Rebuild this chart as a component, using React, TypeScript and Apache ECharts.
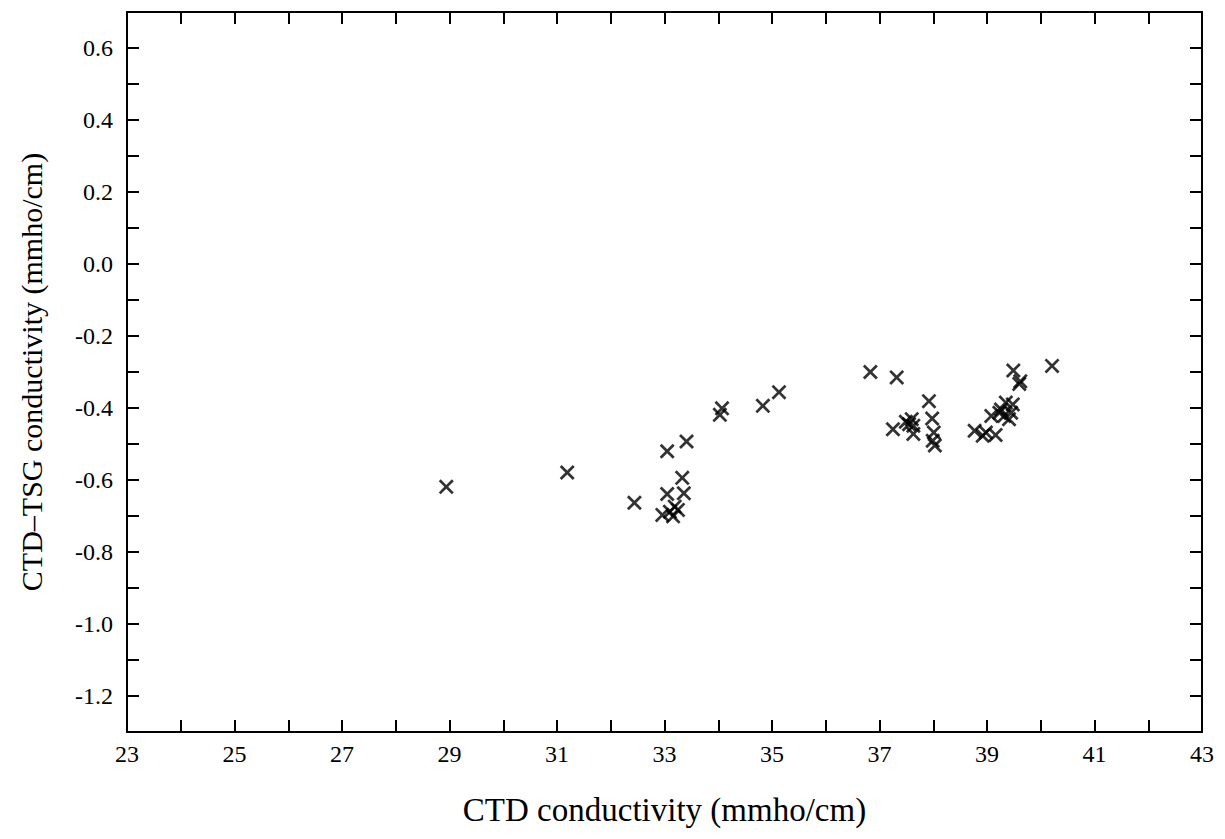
import React, { useEffect, useRef } from "react";
import * as echarts from "echarts";

const xValues: number[] = [
  28.94, 31.19, 32.44, 33.05, 33.41, 33.33, 33.05, 33.36, 33.19, 33.25, 32.96, 33.16, 33.10,
  34.03, 34.07, 34.83, 35.13,
  36.83, 37.32, 37.25, 37.92, 37.49, 37.60, 37.63, 37.63, 37.55, 37.98, 38.01, 37.99, 38.03,
  38.77, 38.92, 38.98, 39.16, 39.08, 39.23, 39.32, 39.35, 39.45, 39.41, 39.48, 39.49, 39.60, 39.62, 40.21, 39.26,
];
const yValues: number[] = [
  -0.619, -0.579, -0.663, -0.520, -0.493, -0.594, -0.639, -0.637, -0.674, -0.683, -0.697, -0.701, -0.688,
  -0.419, -0.401, -0.394, -0.356,
  -0.300, -0.315, -0.459, -0.381, -0.438, -0.431, -0.449, -0.472, -0.445, -0.429, -0.468, -0.491, -0.504,
  -0.463, -0.477, -0.468, -0.475, -0.422, -0.413, -0.422, -0.385, -0.413, -0.431, -0.390, -0.296, -0.333, -0.326, -0.283, -0.404,
];

const xTitle = "CTD conductivity (mmho/cm)";
const yTitle = "CTD\u2013TSG conductivity (mmho/cm)";

const FONT = "'Liberation Serif', 'Times New Roman', serif";
const X_SYMBOL = "path://M0,1.3L1.3,0L5,3.7L8.7,0L10,1.3L6.3,5L10,8.7L8.7,10L5,6.3L1.3,10L0,8.7L3.7,5Z";

export default function App() {
  const ref = useRef<HTMLDivElement>(null);
  useEffect(() => {
    if (!ref.current) return;
    const chart = echarts.init(ref.current, null, { renderer: "svg" });
    const axisLine = { show: true, onZero: false, lineStyle: { color: "#000", width: 2 } };
    const axisTick = { show: true, inside: true, length: 12, lineStyle: { color: "#000", width: 2 } };
    const xFmt = (v: number) => (Math.round(v) % 2 !== 0 ? String(Math.round(v)) : "");
    const yFmt = (v: number) => {
      const k = Math.round(v * 10);
      if (k % 2 !== 0) return "";
      const s = (k / 10).toFixed(1);
      return s === "-0.0" ? "0.0" : s;
    };
    const labelStyle = { fontFamily: FONT, fontSize: 24, color: "#000", fontWeight: "normal" as const };
    chart.setOption({
      animation: false,
      backgroundColor: "#fff",
      textStyle: { fontFamily: FONT, color: "#000" },
      grid: { left: 117, right: 13, top: 4, bottom: 93, containLabel: false },
      xAxis: [
        {
          type: "value", min: 23, max: 43, interval: 1, position: "bottom",
          axisLine, axisTick, splitLine: { show: false },
          axisLabel: { ...labelStyle, formatter: xFmt, margin: 10, showMinLabel: true, showMaxLabel: true },
          name: xTitle, nameLocation: "middle", nameGap: 61,
          nameTextStyle: { fontFamily: FONT, fontSize: 33, color: "#000" },
        },
        {
          type: "value", min: 23, max: 43, interval: 1, position: "top",
          axisLine, axisTick, splitLine: { show: false }, axisLabel: { show: false },
        },
      ],
      yAxis: [
        {
          type: "value", min: -1.3, max: 0.7, interval: 0.1, position: "left",
          axisLine, axisTick, splitLine: { show: false },
          axisLabel: { ...labelStyle, formatter: yFmt, margin: 14 },
          name: yTitle, nameLocation: "middle", nameGap: 81,
          nameTextStyle: { fontFamily: FONT, fontSize: 30, color: "#000" },
        },
        {
          type: "value", min: -1.3, max: 0.7, interval: 0.1, position: "right",
          axisLine, axisTick, splitLine: { show: false }, axisLabel: { show: false },
        },
      ],
      series: [
        {
          type: "scatter",
          xAxisIndex: 0,
          yAxisIndex: 0,
          symbol: X_SYMBOL,
          symbolSize: 15,
          itemStyle: { color: "#000" },
          data: xValues.map((x, i) => [x, yValues[i]]),
        },
      ],
    });
    return () => chart.dispose();
  }, []);
  return <div ref={ref} style={{ width: 1209, height: 823 }} />;
}
